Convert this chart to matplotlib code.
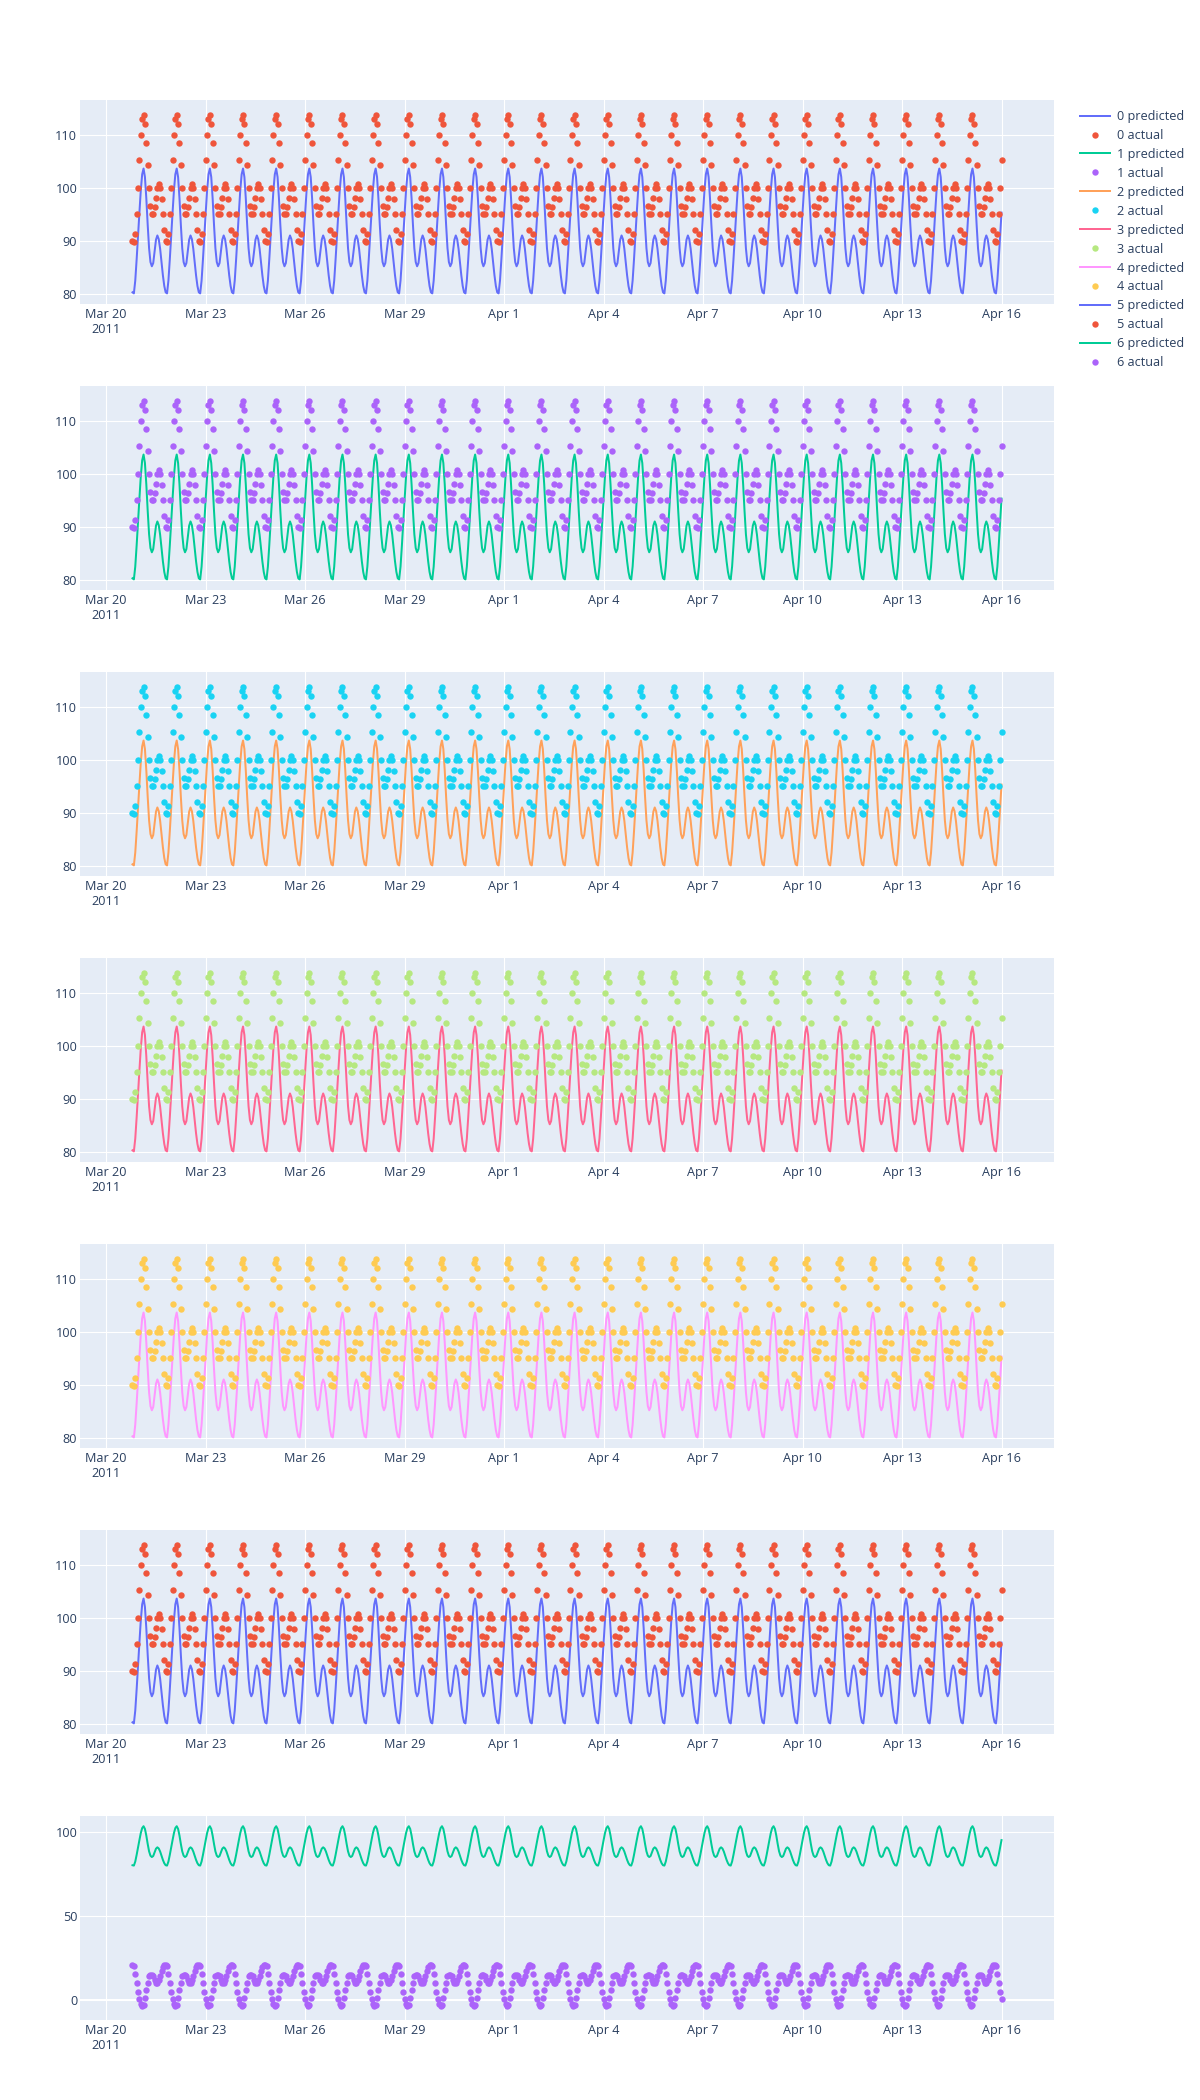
import numpy as np
import pandas as pd
import matplotlib
matplotlib.use("Agg")
import matplotlib.pyplot as plt

# ---------------- data ----------------
start_time = "2011-03-20 19:00"
n_points = 630  # hourly, Mar 20 19:00 .. Apr 16 00:00

# one day of the predicted curve, hourly from 19:00
pred_profile = [80.3, 80.1, 82.5, 86.5, 91.0, 95.3, 99.5, 102.5, 103.6, 102.0,
                98.0, 93.0, 88.6, 86.0, 85.2, 85.8, 88.0, 90.2, 91.0, 90.3,
                88.5, 86.0, 83.5, 81.5]

# one day of the actual values (series 0-5), hourly from 19:00
act_profile = [90.0, 89.7, 91.3, 95.0, 100.0, 105.2, 110.0, 113.0, 113.6, 112.0,
               108.5, 104.3, 100.0, 96.6, 95.0, 95.0, 96.3, 98.1, 100.0, 100.6,
               100.0, 97.8, 95.0, 92.0]

# one day of the actual values of series 6, hourly from 19:00
act_profile_6 = [20.5, 20.0, 15.3, 10.0, 4.8, 0.2, -2.6, -3.8, -3.0, 1.2,
                 5.8, 10.2, 14.0, 15.0, 15.0, 14.0, 12.0, 10.0, 10.0, 11.5,
                 14.0, 17.0, 19.5, 20.5]

series_names = ["0", "1", "2", "3", "4", "5", "6"]
pred_colors = ["#636EFA", "#00CC96", "#FFA15A", "#FF6692", "#FF97FF", "#636EFA", "#00CC96"]
act_colors = ["#EF553B", "#AB63FA", "#19D3F3", "#B6E880", "#FECB52", "#EF553B", "#AB63FA"]

yticks_main = [80, 90, 100, 110]
yticks_last = [0, 50, 100]
ylim_main = (78.1, 116.5)
ylim_last = (-12.1, 109.7)

# ---------------- build series ----------------
times = pd.date_range(start_time, periods=n_points, freq="h")
reps = n_points // 24 + 1
predicted = np.tile(pred_profile, reps)[:n_points]
actual_main = np.tile(act_profile, reps)[:n_points]
actual_last = np.tile(act_profile_6, reps)[:n_points]

# ---------------- figure ----------------
plt.rcParams["font.family"] = ["Open Sans", "DejaVu Sans"]
W, H = 1200, 2100
fig = plt.figure(figsize=(W / 100, H / 100), dpi=100)
fig.patch.set_facecolor("white")

left_px, right_px = 80, 1054
panel_h = 204
tops = [100, 386, 672, 958, 1244, 1530, 1816]

tick_dates = pd.date_range("2011-03-20", "2011-04-16", freq="3D")
tick_labels = []
for i, d in enumerate(tick_dates):
    lab = f"{d:%b} {d.day}"
    if i == 0:
        lab += "\n2011"
    tick_labels.append(lab)

pad = pd.Timedelta(hours=38)
xlim = (times[0] - pad, times[-1] + pad)

fs = 9.1
text_color = "#2a3f5f"

handles = []
labels = []
for i, name in enumerate(series_names):
    top = tops[i]
    ax = fig.add_axes([left_px / W, 1 - (top + panel_h) / H,
                       (right_px - left_px) / W, panel_h / H])
    ax.set_facecolor("#E5ECF6")
    for s in ax.spines.values():
        s.set_visible(False)
    act = actual_last if i == 6 else actual_main
    ln, = ax.plot(times, predicted, color=pred_colors[i], lw=1.44, zorder=3)
    mk, = ax.plot(times, act, ls="none", marker="o", ms=4.6, mew=0,
                  color=act_colors[i], zorder=4)
    handles += [ln, mk]
    labels += [f"{name} predicted", f"{name} actual"]

    ax.set_xlim(*xlim)
    if i == 6:
        ax.set_ylim(*ylim_last)
        ax.set_yticks(yticks_last)
        ax.axhline(0, color="white", lw=1.44, zorder=1)
    else:
        ax.set_ylim(*ylim_main)
        ax.set_yticks(yticks_main)
    ax.set_xticks(tick_dates)
    ax.set_xticklabels(tick_labels)
    ax.grid(True, color="white", lw=0.8, zorder=0)
    ax.set_axisbelow(True)
    ax.tick_params(axis="both", length=0, labelsize=fs, labelcolor=text_color)
    ax.tick_params(axis="y", pad=2)
    ax.tick_params(axis="x", pad=3)
    for t in ax.get_xticklabels():
        t.set_linespacing(1.2)

leg = fig.legend(handles, labels, loc="upper left",
                 bbox_to_anchor=(1080 / W, 1 - 110 / H),
                 frameon=False, fontsize=fs, handlelength=2.4,
                 handletextpad=0.5, labelspacing=0.47,
                 borderaxespad=0, borderpad=0, markerscale=1.0)
for t in leg.get_texts():
    t.set_color(text_color)

fig.savefig("out.png", dpi=100, facecolor="white")
